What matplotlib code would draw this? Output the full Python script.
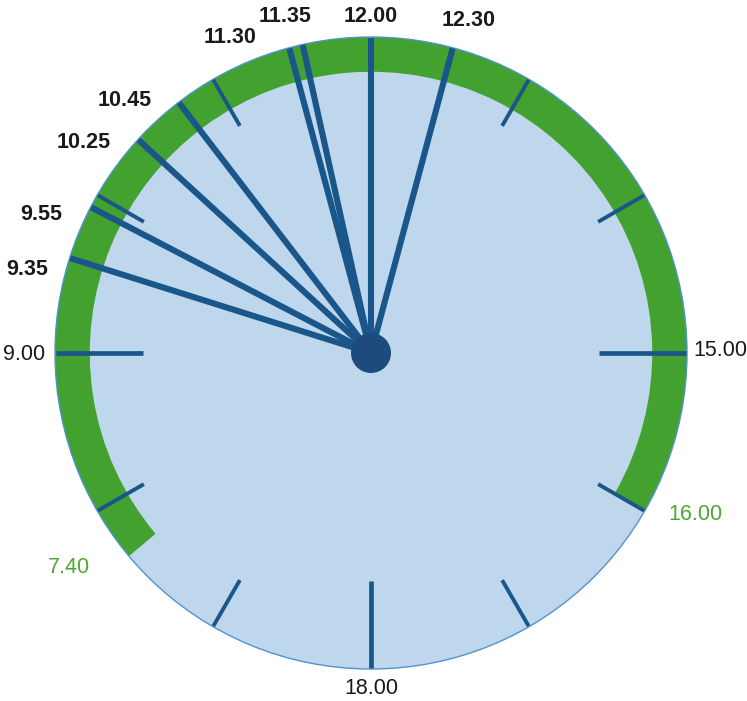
import numpy as np
import matplotlib
matplotlib.use("Agg")
import matplotlib.pyplot as plt
from matplotlib.patches import Circle, Wedge

# ---------------- data ----------------
hand_labels = ["9.35", "9.55", "10.25", "10.45", "11.30", "11.35", "12.00", "12.30"]
hand_times = [9 + 35/60, 9 + 55/60, 10 + 25/60, 10 + 45/60, 11.5, 11 + 35/60, 12.0, 12.5]
hour_ticks = [13, 14, 15, 16, 17, 18, 19, 20, 21, 22, 23]   # 12 is covered by a hand
major_hours = [15, 18, 21]
hour_labels = ["15.00", "18.00", "9.00"]
window_start, window_end = 7 + 40/60, 16.0
window_labels = ["7.40", "16.00"]

# ---------------- style ----------------
FILL = "#BED7EC"
EDGE = "#4F93CF"
GREEN = "#43A12F"
GREEN_TXT = "#4CA735"
HAND = "#1A5689"
DOT = "#1D4C7C"
FONT = "Liberation Sans"
FS = 15.5

# pixel offsets for labels (layout only)
hand_label_offsets = [(-42, -12), (-49, -7), (-54, -3), (-54, 2), (-59, 10), (-18, 28), (0, 20), (16, 27)]
hour_label_offsets = [(33, 3), (0, -19), (-31, -1)]
window_label_offsets = [(-60, -11), (51, -4)]


def clock_angle(t):
    """clockwise angle from 12 o'clock, radians"""
    return np.deg2rad((t - 12.0) * 30.0)


def pt(t, r):
    a = clock_angle(t)
    return r * np.sin(a), r * np.cos(a)


def math_deg(t):
    return 90.0 - (t - 12.0) * 30.0


fig = plt.figure(figsize=(7.47, 7.01), dpi=100)
ax = fig.add_axes([0, 0, 1, 1])
ax.set_xlim(-371 / 316, (747 - 371) / 316)
ax.set_ylim(-(701 - 353) / 316, 353 / 316)
ax.axis("off")

# dial
ax.add_patch(Circle((0, 0), 1.0, facecolor=FILL, edgecolor="none", zorder=1))
# green window band (7.40 -> 16.00 clockwise)
ax.add_patch(Wedge((0, 0), 1.0, math_deg(window_end), math_deg(window_start),
                   width=0.11, facecolor=GREEN, edgecolor="none", zorder=2))
ax.add_patch(Circle((0, 0), 1.0, fill=False, edgecolor=EDGE, lw=1.0, zorder=3))

# hour ticks
for h in hour_ticks:
    r0 = 0.72 if h in major_hours else 0.83
    x0, y0 = pt(h, r0)
    x1, y1 = pt(h, 0.998)
    ax.plot([x0, x1], [y0, y1], color=HAND, lw=3.4 if h in major_hours else 2.8,
            solid_capstyle="butt", zorder=4)

# hands
for t in hand_times:
    x1, y1 = pt(t, 0.998)
    ax.plot([0, x1], [0, y1], color=HAND, lw=4.4, solid_capstyle="butt", zorder=5)

ax.add_patch(Circle((0, 0), 20 / 316, facecolor=DOT, edgecolor="none", zorder=6))

# labels for hands
for lab, t, off in zip(hand_labels, hand_times, hand_label_offsets):
    ax.annotate(lab, xy=pt(t, 1.0), xytext=off, textcoords="offset pixels",
                ha="center", va="center", fontsize=FS, fontweight="bold",
                family=FONT, color="#1a1a1a", zorder=7)

# hour labels
for lab, h, off in zip(hour_labels, major_hours, hour_label_offsets):
    ax.annotate(lab, xy=pt(h, 1.0), xytext=off, textcoords="offset pixels",
                ha="center", va="center", fontsize=FS, family=FONT,
                color="#1a1a1a", zorder=7)

# window labels
for lab, t, off in zip(window_labels, [window_start, window_end], window_label_offsets):
    ax.annotate(lab, xy=pt(t, 1.0), xytext=off, textcoords="offset pixels",
                ha="center", va="center", fontsize=FS, family=FONT,
                color=GREEN_TXT, zorder=7)

fig.savefig("out.png", dpi=100)
